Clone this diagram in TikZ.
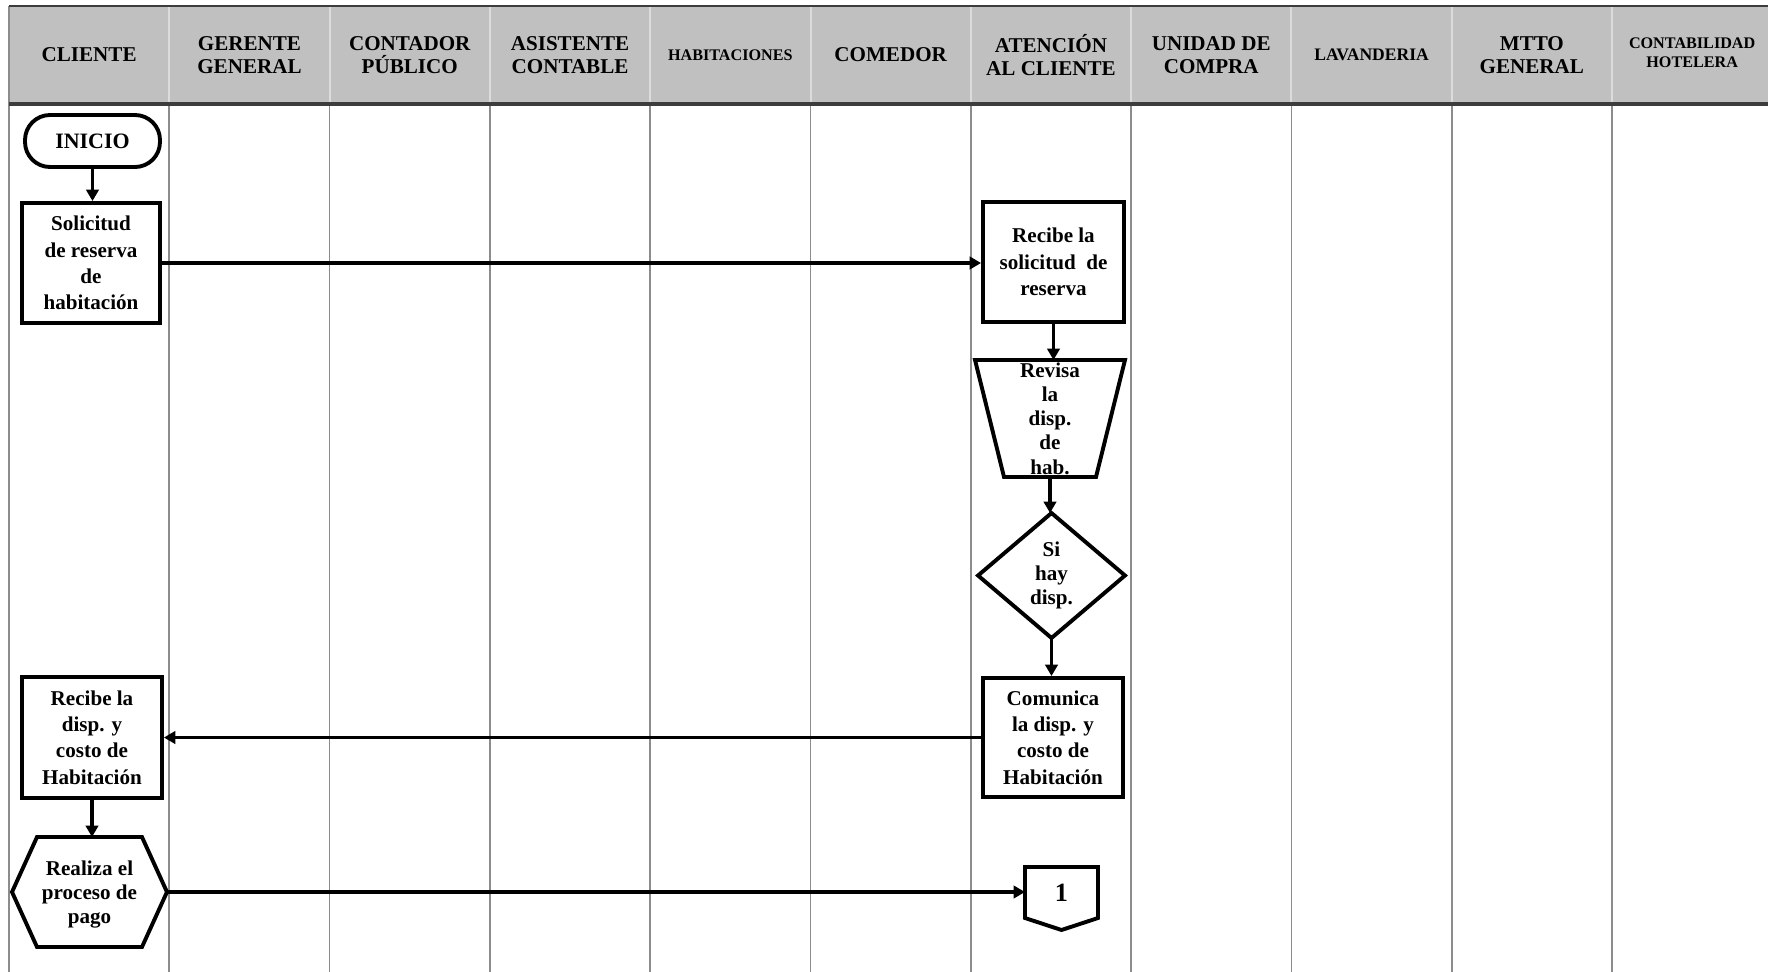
\documentclass[tikz,border=0pt]{standalone}
\usepackage{fontspec}
\setmainfont{Liberation Serif}
\usetikzlibrary{arrows.meta}
\definecolor{hdr}{RGB}{192,192,192}
\definecolor{gridc}{RGB}{140,140,140}
\definecolor{hdrline}{RGB}{220,220,220}
\definecolor{bord}{RGB}{60,60,60}
\begin{document}
\begin{tikzpicture}[x=0.02cm,y=-0.02cm,
  shp/.style={draw=black, line width=0.078cm, line join=miter},
  box/.style={shp, align=center, inner sep=0pt, font=\bfseries\fontsize{12}{15}\selectfont},
  term/.style={shp, rounded corners=0.5cm, inner sep=0pt, font=\bfseries\fontsize{12.5}{15}\selectfont},
  ghost/.style={inner sep=0pt, outer sep=0pt, draw=none},
  txt/.style={align=center, inner sep=0pt, font=\bfseries\fontsize{12}{13.8}\selectfont},
  arr/.style={line width=0.065cm, -{Triangle[length=0.23cm,width=0.25cm]}},
  htxt/.style={align=center, inner sep=0pt, font=\bfseries\fontsize{12}{13.5}\selectfont},
  hsm/.style={align=center, inner sep=0pt, font=\bfseries\fontsize{9.2}{11}\selectfont}
]
\useasboundingbox (0,0) rectangle (1768,971);
% header background
\fill[hdr] (9,6) rectangle (1775,104);
% header dividers
\foreach \i in {1,...,10} {
  \draw[hdrline, line width=0.04cm] ({9+160.3*\i},6) -- ({9+160.3*\i},103);
}
% body dividers
\foreach \i in {1,...,10} {
  \draw[gridc, line width=0.035cm] ({9+160.3*\i},104) -- ({9+160.3*\i},975);
}
\draw[gridc, line width=0.04cm] (9,6) -- (9,975);
\draw[bord, line width=0.05cm] (9,6) -- (1775,6);
\draw[bord, line width=0.07cm] (9,104) -- (1775,104);

% header labels
\node[htxt] (h1) at (89.15,55) {CLIENTE};
\node[htxt] (h2) at (249.45,55) {GERENTE\\GENERAL};
\node[htxt] (h3) at (409.75,55) {CONTADOR\\PÚBLICO};
\node[htxt] (h4) at (570.05,55) {ASISTENTE\\CONTABLE};
\node[hsm] (h5) at (730.35,55) {HABITACIONES};
\node[htxt] (h6) at (890.65,55) {COMEDOR};
\node[htxt] (h7) at (1050.95,55) {ATENCIÓN\\AL CLIENTE};
\node[htxt] (h8) at (1211.25,55) {UNIDAD DE\\COMPRA};
\node[hsm, font=\bfseries\fontsize{10}{11}\selectfont] (h9) at (1371.55,55) {LAVANDERIA};
\node[htxt] (h10) at (1531.85,55) {MTTO\\GENERAL};
\node[hsm] (h11) at (1692.15,53) {CONTABILIDAD\\HOTELERA};

% flow shapes
\node[term, minimum width=2.7cm, minimum height=1.04cm] (inicio) at (92.5,141) {INICIO};
\node[box, minimum width=2.76cm, minimum height=2.4cm] (sol) at (91,263) {Solicitud\\de reserva\\de\\habitación};
\node[box, minimum width=2.82cm, minimum height=2.4cm] (rec) at (1053.5,262) {Recibe la\\solicitud\ \ de\\reserva};

\node[ghost, minimum width=3cm, minimum height=2.34cm] (trap) at (1050,418.5) {};
\draw[shp] (trap.north west) -- (trap.north east) -- ([xshift=-0.58cm]trap.south east) -- ([xshift=0.58cm]trap.south west) -- cycle;
\node[txt] (trapt) at (trap.center) {Revisa\\la\\disp.\\de\\hab.};

\node[ghost, minimum width=2.94cm, minimum height=2.5cm] (dia) at (1051.5,575.5) {};
\draw[shp] (dia.north) -- (dia.east) -- (dia.south) -- (dia.west) -- cycle;
\node[txt] (diat) at (dia.center) {Si\\hay\\disp.};

\node[box, minimum width=2.8cm, minimum height=2.38cm] (com) at (1053,737.5) {Comunica\\la disp. y\\costo de\\Habitación};
\node[box, minimum width=2.8cm, minimum height=2.42cm] (rdisp) at (92,737.5) {Recibe la\\disp. y\\costo de\\Habitación};

\node[ghost, minimum width=3.1cm, minimum height=2.2cm] (hex) at (89.5,892) {};
\draw[shp] (hex.west) -- ([xshift=0.5cm]hex.north west) -- ([xshift=-0.5cm]hex.north east) -- (hex.east) -- ([xshift=-0.5cm]hex.south east) -- ([xshift=0.5cm]hex.south west) -- cycle;
\node[txt] (hext) at ([yshift=-0.05cm]hex.center) {Realiza el\\proceso de\\pago};

\node[ghost, minimum width=1.46cm, minimum height=1.02cm] (conn) at (1061.5,892.5) {};
\draw[shp] (conn.south west) -- (conn.north west) -- (conn.north east) -- (conn.south east) -- ([yshift=-0.24cm]conn.south) -- cycle;
\node[txt, font=\bfseries\fontsize{15}{16}\selectfont] (connt) at (conn.center) {1};

% connectors
\draw[arr] (inicio.south) -- (inicio.south |- sol.north);
\draw[arr] (sol.east) -- (sol.east -| rec.west);
\draw[arr] (rec.south) -- (rec.south |- trap.north);
\draw[arr] (trap.south) -- (trap.south |- dia.north);
\draw[arr] (dia.south) -- (dia.south |- com.north);
\draw[arr] (com.west) -- (com.west -| rdisp.east);
\draw[arr] (rdisp.south) -- (rdisp.south |- hex.north);
\draw[arr] (hex.east) -- (hex.east -| conn.west);
\end{tikzpicture}
\end{document}
